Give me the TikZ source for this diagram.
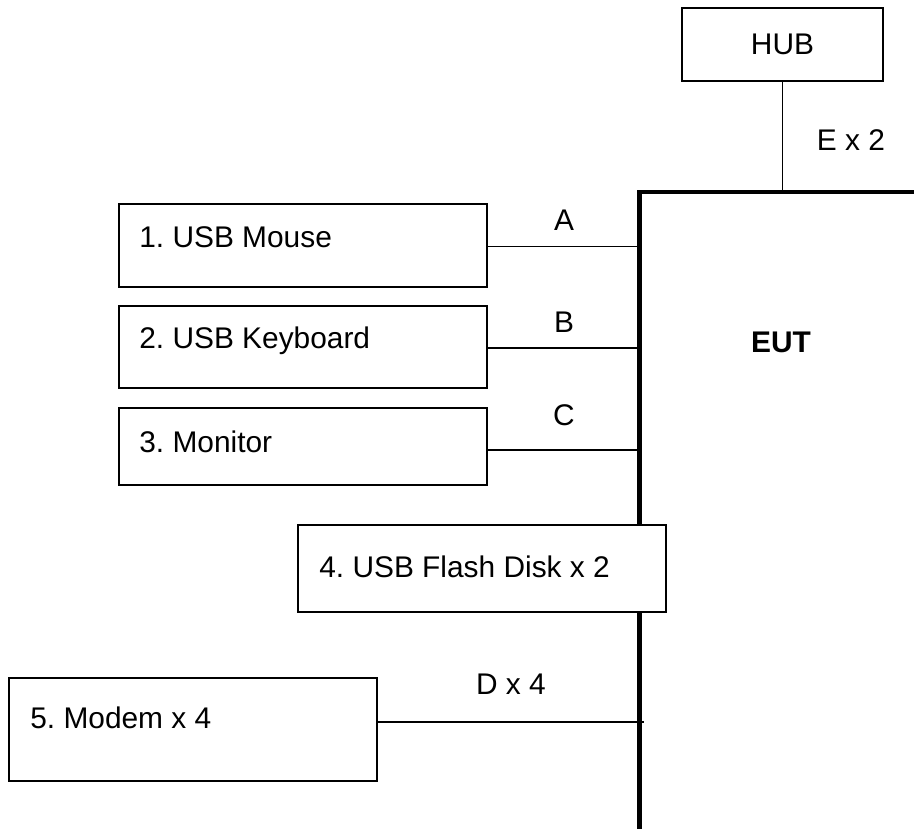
\documentclass[tikz,border=0pt]{standalone}
\usepackage{fontspec}
\setmainfont{Liberation Sans}
\frenchspacing
\usetikzlibrary{positioning,calc}
\tikzset{
	unit/.style={rectangle,draw,fill=white,line width=0.9pt,minimum width=7.36cm,inner sep=0},
	txt/.style={anchor=base west,inner sep=0,font=\fontsize{17}{20}\selectfont},
	tag/.style={anchor=base,inner sep=0,font=\fontsize{17}{20}\selectfont},
	link/.style={color=black,line width=0.9pt},
	bus/.style={color=black,line width=2.8pt}
}
\begin{document}
\begin{tikzpicture}[x=0.02cm,y=-0.02cm]
	\useasboundingbox (0,0) rectangle (914,829);
	
	%%%% EUT
	\coordinate (corner) at (639.5,192);
	\coordinate (bottom) at (639.5,829);
	\coordinate (right) at (914,192);
	\draw[bus] (right) -- (corner) -- (bottom);
	\node[tag,font=\fontsize{17}{20}\selectfont\bfseries] (eut) at (781,352) {EUT};
	
	%%%% HUB
	\node[unit,minimum width=4.02cm,minimum height=1.46cm] (hub) at (782.5,44.5) {};
	\node[tag] (hubtxt) at (hub.center) [anchor=center] {HUB};
	\draw[link] (hub.south) -- (hub.south |- corner);
	\node[tag] (e) at (851,150) {E x 2};
	
	%%%% devices
	\node[unit,minimum height=1.66cm] (mouse) at (302.8,245.5) {};
	\node[txt] (mousetxt) at (139,247) {1. USB Mouse};
	\node[unit,minimum height=1.64cm] (keyboard) at (302.8,347) {};
	\node[txt] (keyboardtxt) at (139,348) {2. USB Keyboard};
	\node[unit,minimum height=1.54cm] (monitor) at (302.8,446.5) {};
	\node[txt] (monitortxt) at (139,452) {3. Monitor};
	\node[unit,minimum height=2.06cm] (modem) at (193,729.5) {};
	\node[txt] (modemtxt) at (30,728) {5. Modem x 4};
	
	\draw[link] ([yshift=-0.02cm]mouse.east) -- ([yshift=-0.02cm]mouse.east -| corner);
	\draw[link] ([yshift=-0.02cm]keyboard.east) -- ([yshift=-0.02cm]keyboard.east -| corner);
	\draw[link] ([yshift=-0.07cm]monitor.east) -- ([yshift=-0.07cm]monitor.east -| corner);
	\draw[link] ([yshift=0.15cm]modem.east) -- ([xshift=0.08cm,yshift=0.15cm]modem.east -| corner);
	
	\node[tag] (a) at (564,230) {A};
	\node[tag] (b) at (564,332) {B};
	\node[tag] (c) at (564,425) {C};
	\node[tag] (d) at (511,694) {D x 4};
	
	%%%% flash disk sits on the bus
	\node[unit,minimum height=1.74cm] (flash) at (482,568.5) {};
	\node[txt] (flashtxt) at (319,577) {4. USB Flash Disk x 2};
\end{tikzpicture}
\end{document}
